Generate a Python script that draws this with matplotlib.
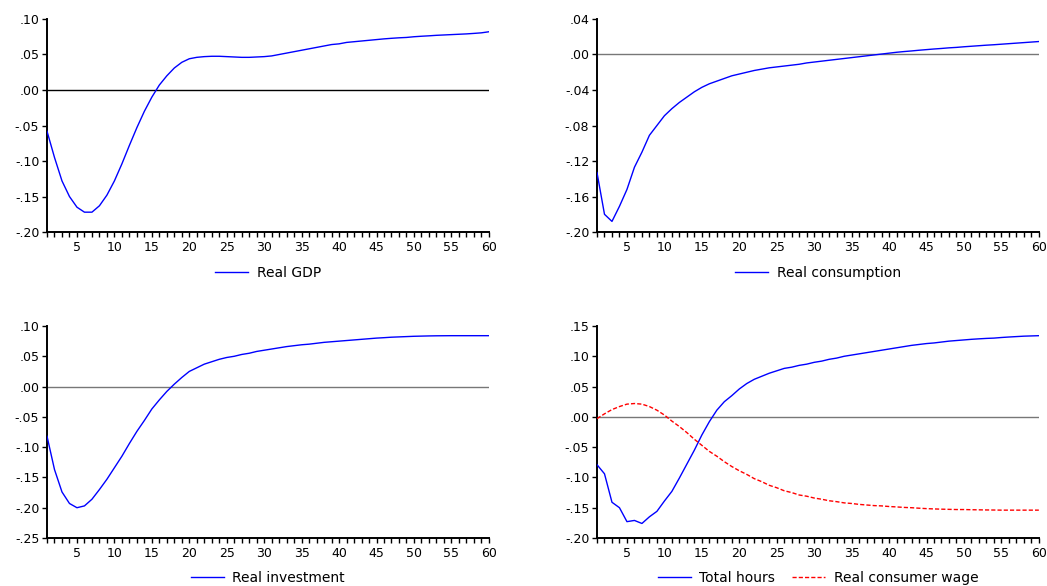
import numpy as np
import matplotlib.pyplot as plt
from matplotlib.ticker import FuncFormatter, MultipleLocator

periods = np.arange(1, 61)

real_gdp = [-0.058, -0.095, -0.128, -0.150, -0.165, -0.172, -0.172, -0.163, -0.148, -0.128,
            -0.104, -0.078, -0.053, -0.030, -0.010, 0.007, 0.020, 0.031, 0.039, 0.044,
            0.046, 0.047, 0.0475, 0.0475, 0.047, 0.0465, 0.046, 0.046, 0.0465, 0.047,
            0.048, 0.050, 0.052, 0.054, 0.056, 0.058, 0.060, 0.062, 0.064, 0.065,
            0.067, 0.068, 0.069, 0.070, 0.071, 0.072, 0.0728, 0.0735, 0.074, 0.075,
            0.0757, 0.0763, 0.077, 0.0775, 0.078, 0.0785, 0.079, 0.0797, 0.0805, 0.082]

real_consumption = [-0.133, -0.180, -0.188, -0.171, -0.152, -0.127, -0.110, -0.091, -0.080, -0.069,
                    -0.061, -0.054, -0.048, -0.042, -0.037, -0.033, -0.030, -0.027, -0.024, -0.022,
                    -0.020, -0.018, -0.0165, -0.015, -0.014, -0.013, -0.012, -0.011, -0.0095, -0.0085,
                    -0.0075, -0.0065, -0.0055, -0.0045, -0.0035, -0.0025, -0.0015, -0.0005, 0.0005, 0.0015,
                    0.0025, 0.0033, 0.004, 0.0048, 0.0055, 0.0062, 0.0068, 0.0075, 0.008, 0.0087,
                    0.0093, 0.0099, 0.0105, 0.011, 0.0116, 0.0122, 0.0128, 0.0134, 0.014, 0.0146]

real_investment = [-0.082, -0.137, -0.174, -0.193, -0.200, -0.197, -0.186, -0.170, -0.153, -0.134,
                   -0.115, -0.094, -0.074, -0.056, -0.037, -0.022, -0.008, 0.004, 0.015, 0.025,
                   0.031, 0.037, 0.041, 0.045, 0.048, 0.050, 0.053, 0.055, 0.058, 0.060,
                   0.062, 0.064, 0.066, 0.0675, 0.069, 0.070, 0.0715, 0.073, 0.074, 0.075,
                   0.076, 0.077, 0.078, 0.079, 0.080, 0.0807, 0.0815, 0.082, 0.0825, 0.083,
                   0.0833, 0.0836, 0.0838, 0.0839, 0.084, 0.084, 0.084, 0.084, 0.084, 0.084]

total_hours = [-0.079, -0.094, -0.141, -0.150, -0.173, -0.171, -0.176, -0.165, -0.156, -0.139,
               -0.123, -0.101, -0.078, -0.055, -0.030, -0.008, 0.011, 0.025, 0.035, 0.046,
               0.055, 0.062, 0.067, 0.072, 0.076, 0.080, 0.082, 0.085, 0.087, 0.090,
               0.092, 0.095, 0.097, 0.100, 0.102, 0.104, 0.106, 0.108, 0.110, 0.112,
               0.114, 0.116, 0.118, 0.1195, 0.121, 0.122, 0.1235, 0.125, 0.126, 0.127,
               0.128, 0.1288, 0.1295, 0.130, 0.131, 0.1318, 0.1325, 0.1332, 0.1336, 0.134]

real_wage = [-0.003, 0.005, 0.012, 0.017, 0.021, 0.022, 0.021, 0.017, 0.011, 0.003,
             -0.007, -0.016, -0.026, -0.037, -0.047, -0.057, -0.065, -0.074, -0.082, -0.089,
             -0.095, -0.102, -0.107, -0.113, -0.117, -0.122, -0.125, -0.129, -0.131, -0.134,
             -0.136, -0.1385, -0.140, -0.142, -0.143, -0.1445, -0.1455, -0.1465, -0.147, -0.148,
             -0.1487, -0.1495, -0.150, -0.1508, -0.1515, -0.152, -0.1524, -0.1527, -0.153, -0.153,
             -0.1533, -0.1535, -0.1537, -0.1538, -0.154, -0.154, -0.154, -0.154, -0.154, -0.154]

plt.rcParams['font.family'] = ['DejaVu Sans']
plt.rcParams['font.size'] = 9


def eviews_fmt(v, pos):
    v = round(v, 4)
    if v == 0:
        return ".00"
    s = f"{v:.2f}"
    return s.replace("0.", ".", 1)


def style_axis(ax, ylim, ystep, zero_color):
    ax.set_xlim(1, 60)
    ax.set_ylim(*ylim)
    ax.axhline(0, color=zero_color, lw=1.0, zorder=1)
    ax.xaxis.set_minor_locator(MultipleLocator(1))
    ax.yaxis.set_major_locator(MultipleLocator(ystep))
    ax.yaxis.set_major_formatter(FuncFormatter(eviews_fmt))
    ax.set_xticks(np.arange(5, 61, 5))
    for side in ("top", "right"):
        ax.spines[side].set_visible(False)
    for side in ("left", "bottom"):
        ax.spines[side].set_linewidth(1.4)
    ax.tick_params(axis="both", which="both", direction="out", length=3.5, width=1, pad=2,
                   labelsize=9)
    ax.tick_params(axis="x", which="major", pad=3)


fig = plt.figure(figsize=(10.47, 5.86), dpi=100)

lefts = [0.0449, 0.5702]
w = 0.422
top_b, top_h = 0.604, 0.3636
bot_b, bot_h = 0.0819, 0.3618

ax1 = fig.add_axes([lefts[0], top_b, w, top_h])
ax2 = fig.add_axes([lefts[1], top_b, w, top_h])
ax3 = fig.add_axes([lefts[0], bot_b, w, bot_h])
ax4 = fig.add_axes([lefts[1], bot_b, w, bot_h])

blue = "#0000ff"
red = "#ff0000"

ax1.plot(periods, real_gdp, color=blue, lw=1.0, label="Real GDP", zorder=3)
style_axis(ax1, (-0.20, 0.10), 0.05, "black")

ax2.plot(periods, real_consumption, color=blue, lw=1.0, label="Real consumption", zorder=3)
style_axis(ax2, (-0.20, 0.04), 0.04, "#777777")

ax3.plot(periods, real_investment, color=blue, lw=1.0, label="Real investment", zorder=3)
style_axis(ax3, (-0.25, 0.10), 0.05, "#777777")

ax4.plot(periods, total_hours, color=blue, lw=1.0, label="Total hours", zorder=3)
ax4.plot(periods, real_wage, color=red, lw=1.0, ls=(0, (3, 1.5)), label="Real consumer wage", zorder=3)
style_axis(ax4, (-0.20, 0.15), 0.05, "#777777")

for ax, ypos in ((ax1, 0.534), (ax2, 0.534), (ax3, 0.014), (ax4, 0.014)):
    pos = ax.get_position()
    xc = (pos.x0 + pos.x1) / 2
    handles, labels = ax.get_legend_handles_labels()
    fig.legend(handles, labels, loc="center", bbox_to_anchor=(xc, ypos), ncol=2, frameon=False,
               handlelength=2.4, handletextpad=0.6, columnspacing=1.2, fontsize=10,
               borderpad=0, borderaxespad=0)

fig.savefig("out.png", dpi=100)
